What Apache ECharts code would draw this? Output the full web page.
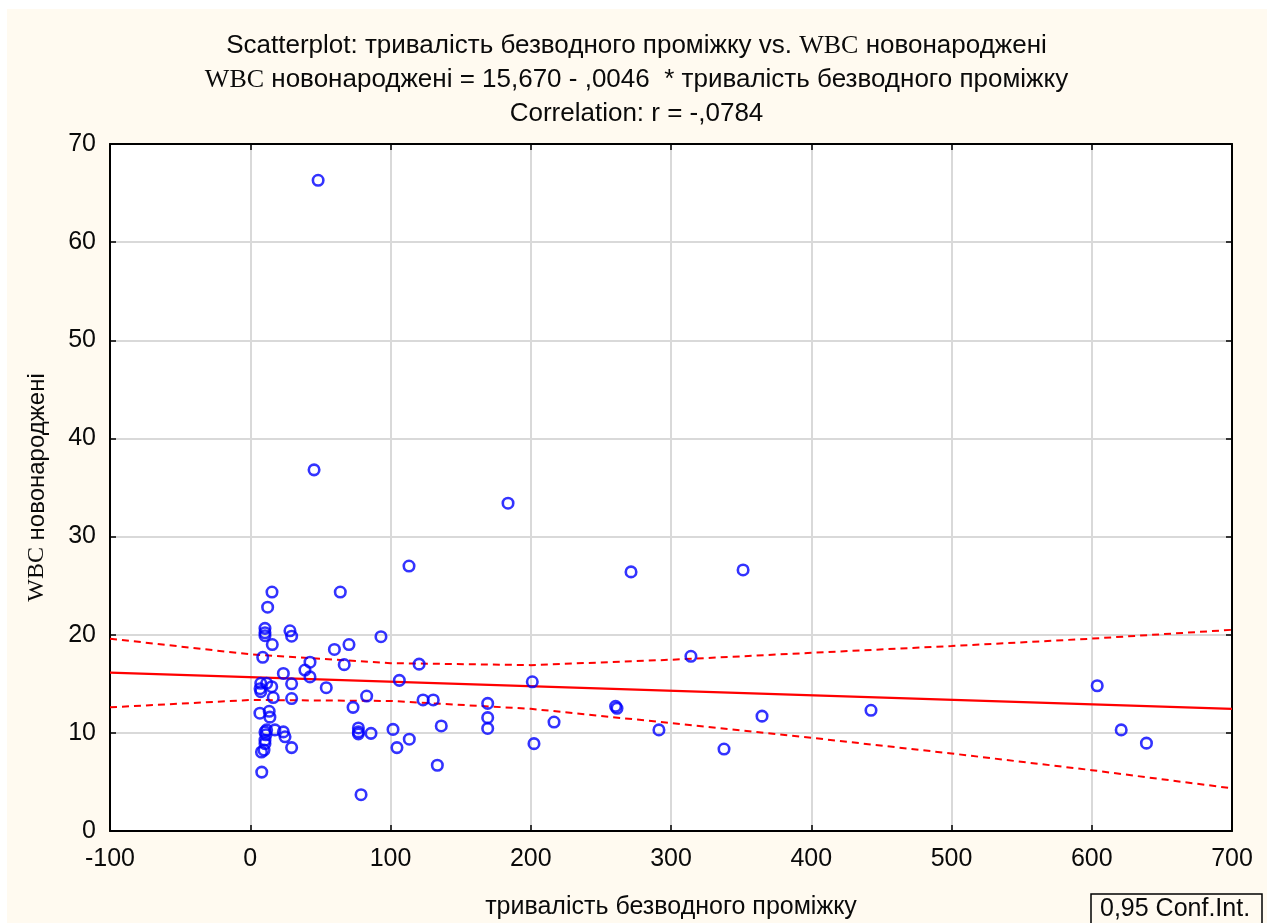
<!DOCTYPE html>
<html>
<head>
<meta charset="utf-8">
<script src="https://cdn.jsdelivr.net/npm/echarts@6/dist/echarts.min.js"></script>
<style>html,body{margin:0;padding:0;background:#fff}#c{width:1273px;height:923px}</style>
</head>
<body>
<div id="c"></div>
<script>
// Data
const durX = [15.5,12.4,10.5,10.5,10.5,28.3,29.5,15.7,8.9,23.6,7.5,11.7,7.0,7.5,15.3,29.5,16.4,29.5,6.9,13.5,14.0,10.5,11.7,11.2,17.6,23.6,24.8,10.5,10.5,9.8,29.5,8.2,8.0,
  48.4,45.5,64.2,93.2,60.0,70.4,42.6,67.0,120.4,39.0,42.6,54.2,106.3,83.0,123.2,130.5,73.3,77.1,77.1,77.1,86.1,101.8,104.6,113.4,79.0,136.2,133.4,169.3,169.3,169.3,201.1,202.3,216.6,113.2,183.8,271.5,351.4,314.2,260.5,261.5,291.4,337.8,364.9,442.6,603.9,621.0,639.0];
const wbcY = [24.35,22.8,20.65,20.2,19.9,20.4,19.85,19.0,17.7,16.05,15.05,15.05,14.5,14.2,14.7,15.0,13.6,13.5,12.0,12.2,11.6,10.1,10.3,9.8,10.3,10.1,9.6,9.25,8.9,8.25,8.5,6.0,8.05,
  66.3,36.8,24.35,19.8,18.5,19.0,17.2,16.95,17.0,16.4,15.7,14.6,15.35,13.75,13.35,13.35,12.6,10.5,10.1,9.9,9.95,10.35,8.5,9.35,3.7,10.7,6.7,13.0,11.55,10.45,15.2,8.9,11.1,27.0,33.4,26.4,26.6,17.8,12.7,12.5,10.3,8.35,11.7,12.3,14.8,10.3,8.95];
const fitX = [-100, 700];
const fitY = [16.13, 12.45];
const bandX = [-100, 0, 100, 200, 300, 400, 500, 600, 700];
const bandUpper = [19.6, 18.0, 17.1, 16.9, 17.45, 18.15, 18.85, 19.6, 20.5];
const bandLower = [12.6, 13.35, 13.25, 12.45, 11.0, 9.5, 7.9, 6.2, 4.35];
const xTicks = {min: -100, max: 700, interval: 100};
const yTicks = {min: 0, max: 70, interval: 10};
const titleLines = ['Scatterplot: тривалість безводного проміжку vs. ', 'WBC', ' новонароджені', ' новонароджені = 15,670 - ,0046  * тривалість безводного проміжку', 'Correlation: r = -,0784'];
const xName = 'тривалість безводного проміжку';
const yNameRest = ' новонароджені';
const legendLabel = '0,95 Conf.Int.';

const zip = (a, b) => a.map((v, i) => [v, b[i]]);
const sans = 'Liberation Sans, Arial, sans-serif';
const serif = 'Liberation Serif, Times New Roman, serif';
const FS = 25;
const TFS = 26;
const mkRich = (fs, lh) => ({
  a: {fontFamily: sans, fontSize: fs, fontWeight: 'normal', color: '#0a0a0a', lineHeight: lh},
  s: {fontFamily: serif, fontSize: fs, fontWeight: 'normal', color: '#0a0a0a', lineHeight: lh}
});

const chart = echarts.init(document.getElementById('c'), null, {renderer: 'canvas'});
const frameAxis = {
  axisLine: {show: true, onZero: false, lineStyle: {color: '#000', width: 2}},
  axisTick: {show: true, inside: true, length: 6, lineStyle: {color: '#000', width: 1.5}},
};
chart.setOption({
  animation: false,
  backgroundColor: '#fff',
  graphic: [
    {type: 'rect', z: -10, shape: {x: 7, y: 9, width: 1260, height: 914}, style: {fill: '#FFFAF0'}},
    {type: 'rect', z: 100, shape: {x: 1091, y: 894, width: 171, height: 36}, style: {fill: '#FFFAF0', stroke: '#000', lineWidth: 1.5}},
    {type: 'text', z: 101, x: 1100, y: 897, style: {text: legendLabel, font: '25px ' + sans, fill: '#0a0a0a'}}
  ],
  title: {
    text: '{a|' + titleLines[0] + '}{s|' + titleLines[1] + '}{a|' + titleLines[2] + '}\n{s|' + titleLines[1] + '}{a|' + titleLines[3] + '}\n{a|' + titleLines[4] + '}',
    left: 'center', top: 24,
    textStyle: {fontWeight: 'normal', rich: mkRich(TFS, 34)}
  },
  grid: {left: 110, right: 41, top: 144, bottom: 92, backgroundColor: '#fff', show: true, borderWidth: 0, outerBoundsMode: 'none', containLabel: false},
  xAxis: [{
    type: 'value', min: xTicks.min, max: xTicks.max, interval: xTicks.interval,
    ...frameAxis,
    axisLabel: {fontFamily: sans, fontSize: FS, color: '#0a0a0a', margin: 16},
    splitLine: {show: true, lineStyle: {color: '#d9d9d9', width: 2}},
    name: xName, nameLocation: 'middle', nameGap: 64,
    nameTextStyle: {fontFamily: sans, fontSize: FS, color: '#0a0a0a'}
  }, {
    type: 'value', position: 'top', min: xTicks.min, max: xTicks.max, interval: xTicks.interval,
    ...frameAxis, axisLabel: {show: false}, splitLine: {show: false}
  }],
  yAxis: [{
    type: 'value', min: yTicks.min, max: yTicks.max, interval: yTicks.interval,
    ...frameAxis,
    axisLabel: {fontFamily: sans, fontSize: FS, color: '#0a0a0a', margin: 14},
    splitLine: {show: true, lineStyle: {color: '#d9d9d9', width: 2}},
    name: '{s|' + titleLines[1] + '}{a|' + yNameRest + '}', nameLocation: 'middle', nameGap: 58, nameRotate: 90,
    nameTextStyle: {rich: mkRich(24, 30)}
  }, {
    type: 'value', position: 'right', min: yTicks.min, max: yTicks.max, interval: yTicks.interval,
    ...frameAxis, axisLabel: {show: false}, splitLine: {show: false}
  }],
  series: [
    {type: 'line', name: 'fit', data: zip(fitX, fitY), symbol: 'none', lineStyle: {color: '#ff0000', width: 2.2}, z: 3},
    {type: 'line', name: 'upper', data: zip(bandX, bandUpper), symbol: 'none', lineStyle: {color: '#ff0000', width: 2, type: [7, 5]}, z: 3},
    {type: 'line', name: 'lower', data: zip(bandX, bandLower), symbol: 'none', lineStyle: {color: '#ff0000', width: 2, type: [7, 5]}, z: 3},
    {type: 'scatter', name: 'points', data: zip(durX, wbcY), symbol: 'circle', symbolSize: 10.5,
      itemStyle: {color: 'rgba(0,0,0,0)', borderColor: '#0000ff', borderWidth: 2.6}, z: 4}
  ]
});
</script>
</body>
</html>
